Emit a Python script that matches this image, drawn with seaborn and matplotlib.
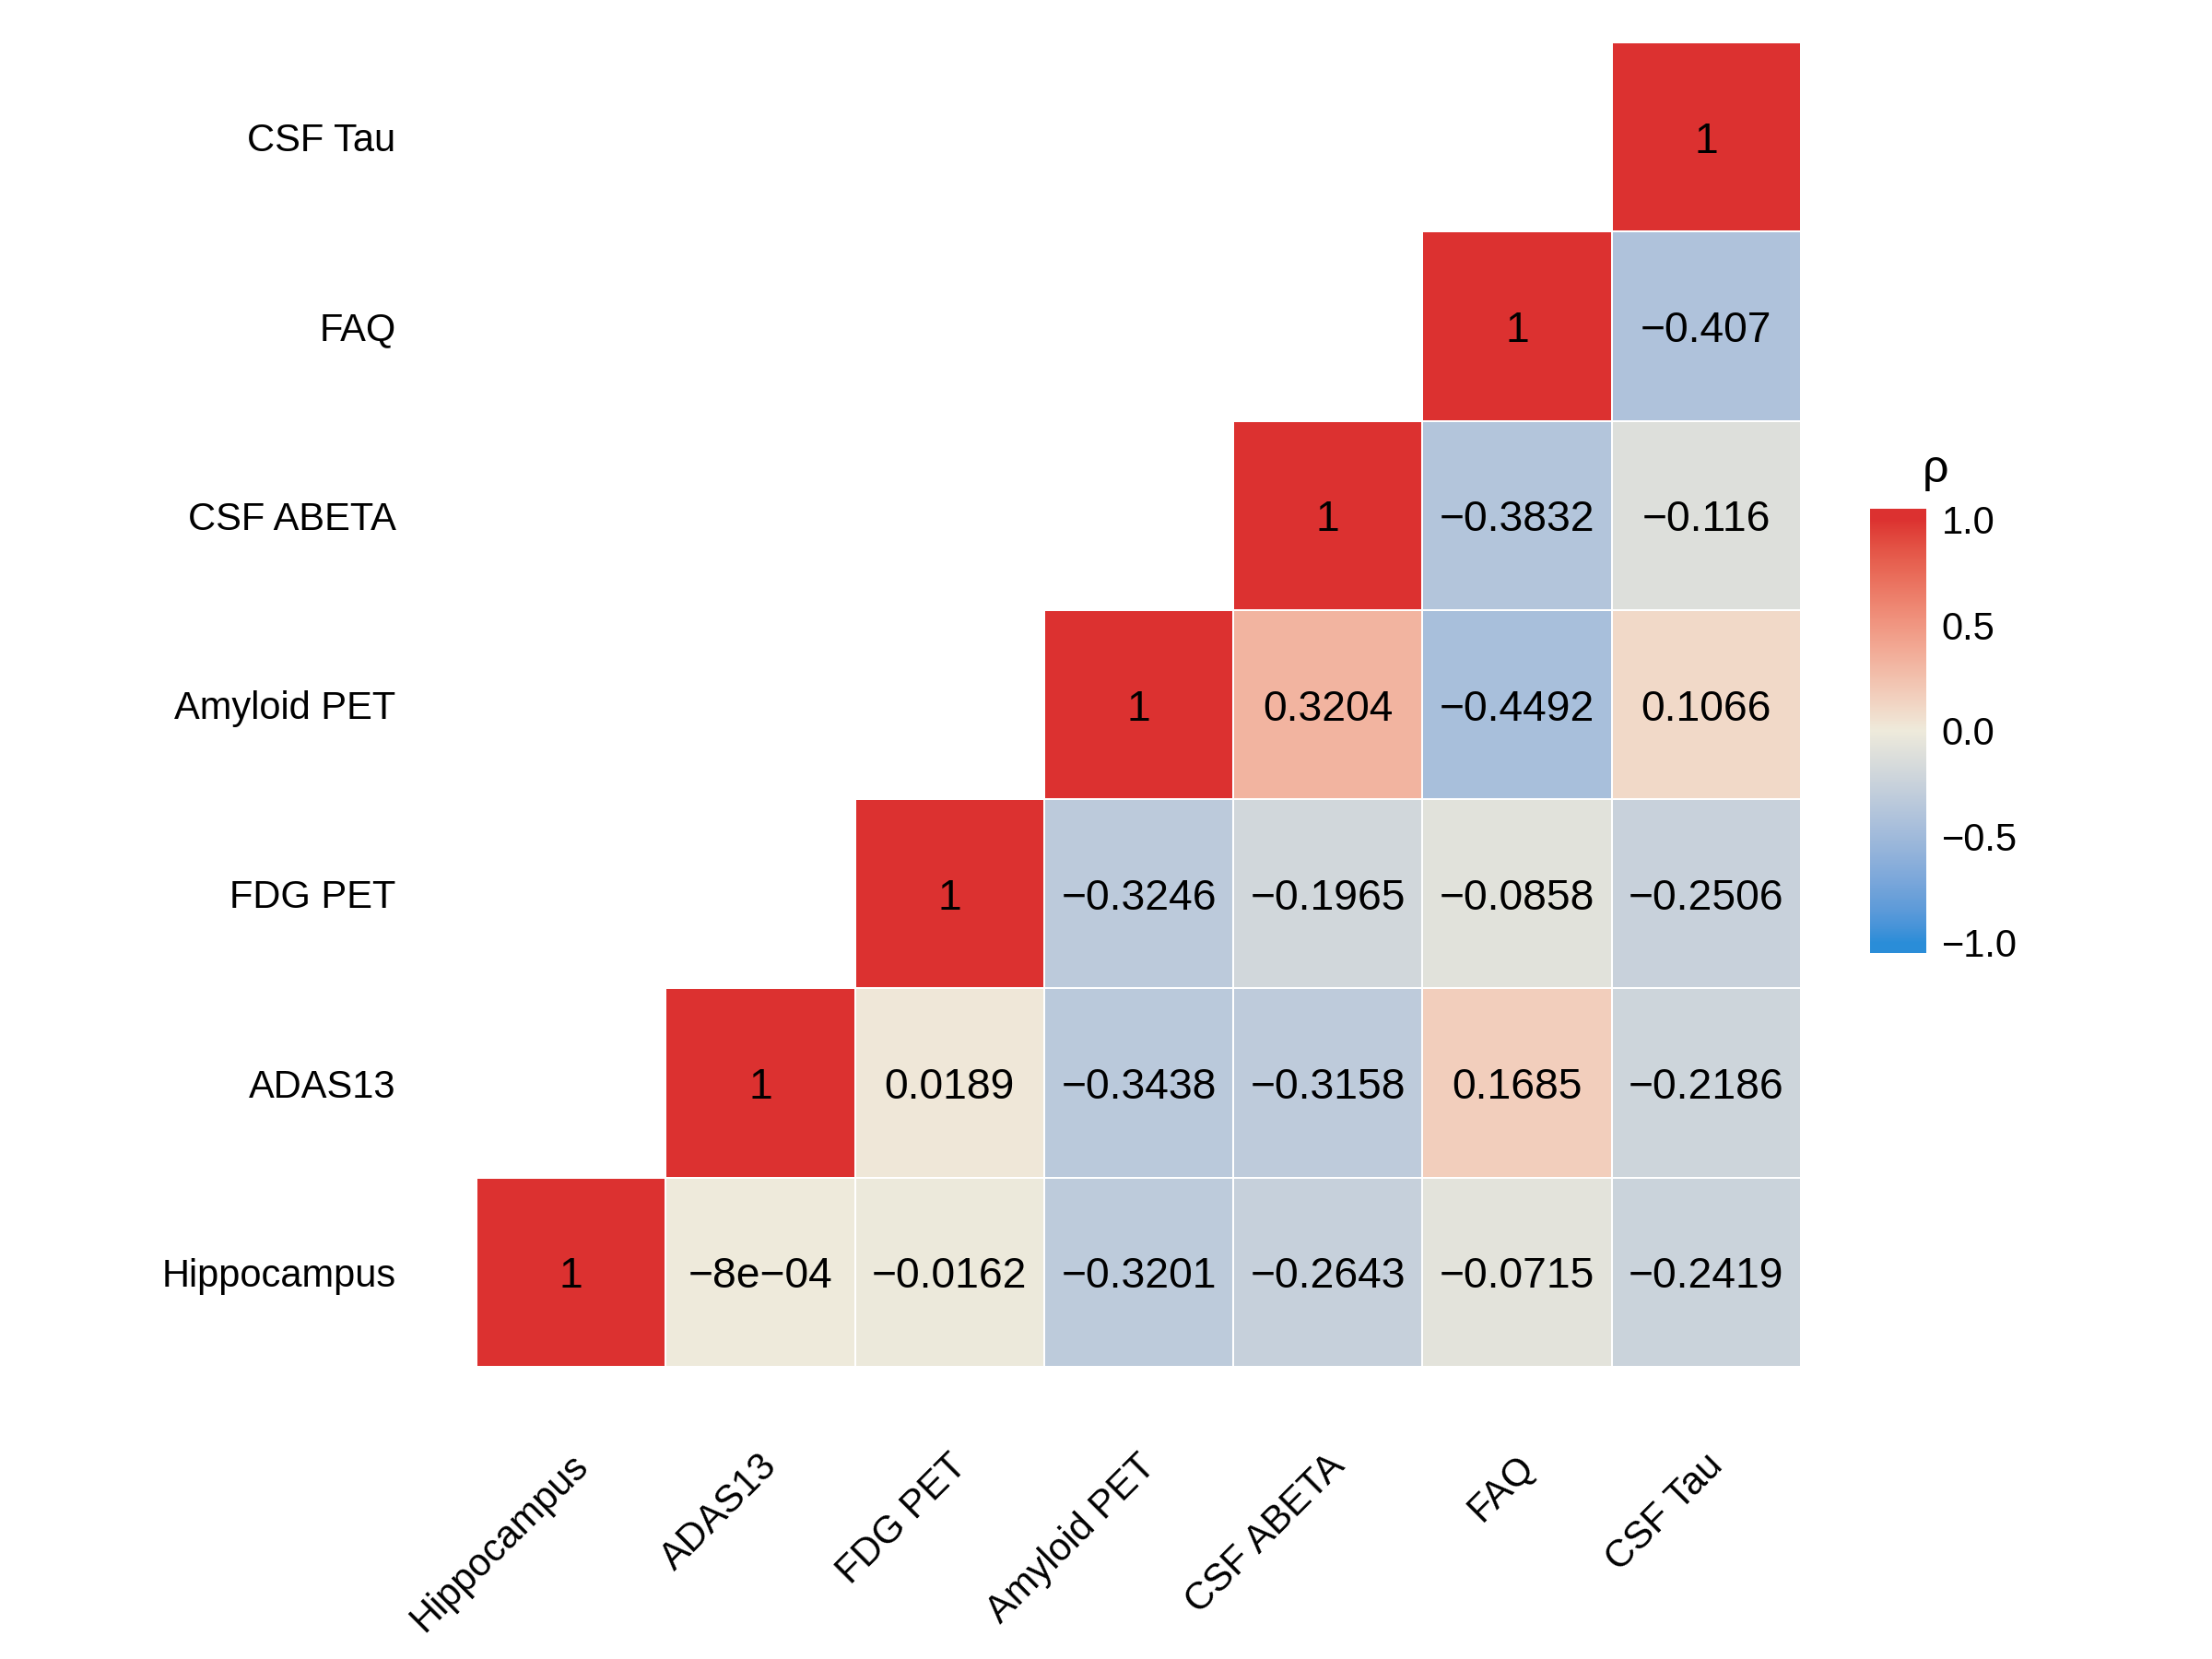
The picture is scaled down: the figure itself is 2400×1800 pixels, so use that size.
import numpy as np
import pandas as pd
import matplotlib
matplotlib.use("Agg")
import matplotlib.pyplot as plt
import matplotlib.colors as mcolors
from matplotlib.transforms import ScaledTranslation
import seaborn as sns

# variables in plotting order (x left->right, y bottom->top)
variables = ["Hippocampus", "ADAS13", "FDG PET", "Amyloid PET", "CSF ABETA", "FAQ", "CSF Tau"]

# correlations of each variable with itself and the variables after it
rho_hippocampus = [1, -0.0008, -0.0162, -0.3201, -0.2643, -0.0715, -0.2419]
rho_adas13 = [1, 0.0189, -0.3438, -0.3158, 0.1685, -0.2186]
rho_fdg_pet = [1, -0.3246, -0.1965, -0.0858, -0.2506]
rho_amyloid_pet = [1, 0.3204, -0.4492, 0.1066]
rho_csf_abeta = [1, -0.3832, -0.116]
rho_faq = [1, -0.407]
rho_csf_tau = [1]

cbar_ticks = [-1.0, -0.5, 0.0, 0.5, 1.0]
cbar_labels = ["\u22121.0", "\u22120.5", "0.0", "0.5", "1.0"]

low_col, mid_col, high_col = "#2A8DD8", "#EEEADB", "#DC3130"


# --- gradient2-like palette (Lab interpolation) ---
M = np.array([[0.4124, 0.3576, 0.1805],
              [0.2126, 0.7152, 0.0722],
              [0.0193, 0.1192, 0.9505]])
WHITE = np.array([0.95047, 1.0, 1.08883])


def to_lab(c):
    rgb = np.array(mcolors.to_rgb(c))
    lin = np.where(rgb <= 0.04045, rgb / 12.92, ((rgb + 0.055) / 1.055) ** 2.4)
    xyz = M @ lin / WHITE
    f = np.where(xyz > 216 / 24389, np.cbrt(xyz), (24389 / 27 * xyz + 16) / 116)
    return np.array([116 * f[1] - 16, 500 * (f[0] - f[1]), 200 * (f[1] - f[2])])


def from_lab(lab):
    fy = (lab[0] + 16) / 116
    f = np.array([fy + lab[1] / 500, fy, fy - lab[2] / 200])
    xyz = np.where(f ** 3 > 216 / 24389, f ** 3, (116 * f - 16) / (24389 / 27)) * WHITE
    lin = np.clip(np.linalg.solve(M, xyz), 0, 1)
    rgb = np.where(lin <= 0.0031308, 12.92 * lin, 1.055 * lin ** (1 / 2.4) - 0.055)
    return np.clip(rgb, 0, 1)


vmin, vmax = -1.05, 1.05
lab_lo, lab_mid, lab_hi = to_lab(low_col), to_lab(mid_col), to_lab(high_col)
cols = []
for t in np.linspace(0, 1, 512):
    v = np.clip(vmin + t * (vmax - vmin), -1, 1)
    s = (v + 1) / 2
    if s < 0.5:
        lab = lab_lo + (lab_mid - lab_lo) * (s * 2)
    else:
        lab = lab_mid + (lab_hi - lab_mid) * ((s - 0.5) * 2)
    cols.append(from_lab(lab))
cmap = mcolors.ListedColormap(cols)

# --- build matrix ---
rows = [rho_hippocampus, rho_adas13, rho_fdg_pet, rho_amyloid_pet,
        rho_csf_abeta, rho_faq, rho_csf_tau]
n = len(variables)
mat = np.full((n, n), np.nan)
for r, vals in enumerate(rows):
    for k, v in enumerate(vals):
        mat[r, r + k] = v

df = pd.DataFrame(mat, index=variables, columns=variables).iloc[::-1]


def fmt_r(v):
    if np.isnan(v):
        return ""
    if v != 0 and abs(v) < 0.001:
        s = f"{v:.0e}"
    else:
        s = f"{v:g}"
    return s.replace("-", "\u2212")


labels = np.vectorize(fmt_r)(df.values)

sns.set_theme(style="white")
plt.rcParams["font.family"] = ["Liberation Sans", "DejaVu Sans"]
plt.rcParams["text.color"] = "black"
plt.rcParams["xtick.labelcolor"] = "black"
plt.rcParams["ytick.labelcolor"] = "black"

fig = plt.figure(figsize=(8, 6), dpi=300)
ax = fig.add_axes([0.2154, 0.1761, 0.5988, 0.7983])
cax = fig.add_axes([0.8454, 0.4256, 0.0254, 0.2678])

sns.heatmap(df, mask=df.isna(), cmap=cmap, vmin=vmin, vmax=vmax,
            annot=labels, fmt="", annot_kws={"color": "black", "fontsize": 11.1,
                                             "va": "center_baseline"},
            linewidths=0.4, linecolor="white", ax=ax, cbar_ax=cax,
            cbar_kws={"ticks": cbar_ticks})

ax.set_xlabel("")
ax.set_ylabel("")
ax.tick_params(axis="both", length=0, labelsize=10)
ax.tick_params(axis="x", pad=21)
ax.tick_params(axis="y", pad=21)
plt.setp(ax.get_yticklabels(), rotation=0, va="center_baseline")
plt.setp(ax.get_xticklabels(), rotation=45, ha="right", va="top", rotation_mode="anchor")
for lbl in ax.get_xticklabels():
    lbl.set_transform(lbl.get_transform() + ScaledTranslation(-2 / 300, 0, fig.dpi_scale_trans))

cbar = ax.collections[0].colorbar
cbar.outline.set_visible(False)
cbar.ax.yaxis.set_ticks_position("both")
cbar.ax.tick_params(axis="y", direction="in", length=3, width=0.5, color="white",
                    labelleft=False, labelright=True, labelsize=10, pad=4)
cbar.ax.set_yticks(cbar_ticks)
cbar.ax.set_yticklabels(cbar_labels)

fig.text(0.869, 0.7094, "\u03c1", ha="left", va="baseline", fontsize=12)

fig.savefig("out.png", dpi=300, facecolor="white")
